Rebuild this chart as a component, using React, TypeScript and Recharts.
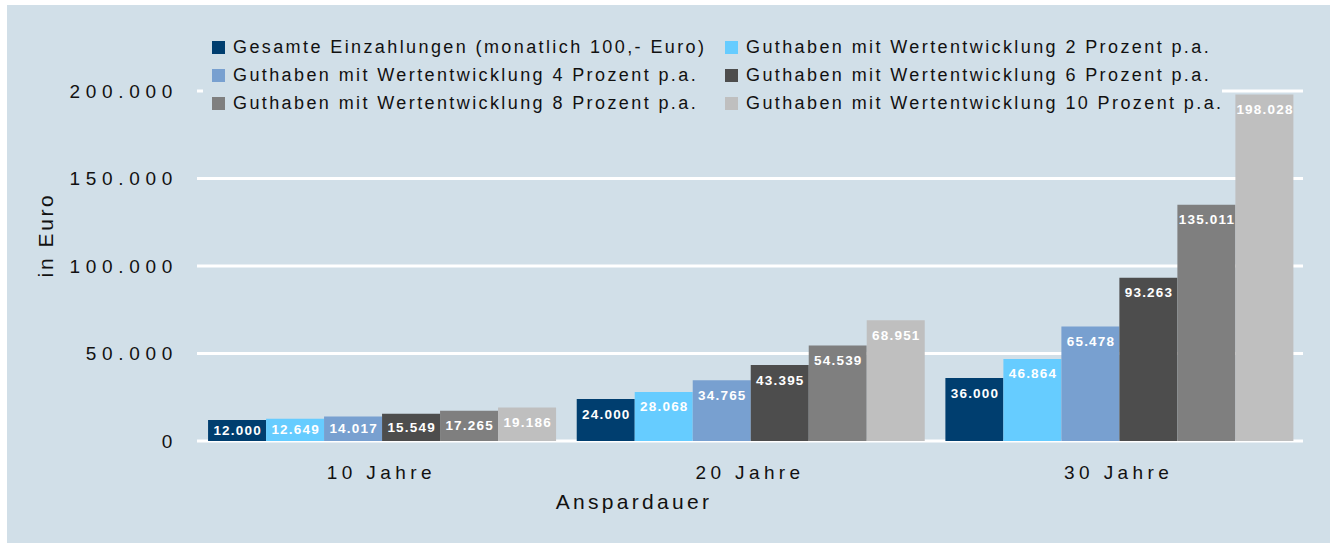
import React from 'react'
import { BarChart, Bar, XAxis, YAxis, CartesianGrid, LabelList, Label } from 'recharts'

const categories = ['10 Jahre', '20 Jahre', '30 Jahre']

const seriesNames = [
  'Gesamte Einzahlungen (monatlich 100,- Euro)',
  'Guthaben mit Wertentwicklung 2 Prozent p.a.',
  'Guthaben mit Wertentwicklung 4 Prozent p.a.',
  'Guthaben mit Wertentwicklung 6 Prozent p.a.',
  'Guthaben mit Wertentwicklung 8 Prozent p.a.',
  'Guthaben mit Wertentwicklung 10 Prozent p.a.',
]
const seriesColors = ['#003e6f', '#66ccff', '#78a0d0', '#4d4d4d', '#7f7f7f', '#bfbfbf']

const einzahlungen = [12000, 24000, 36000]
const rate2 = [12649, 28068, 46864]
const rate4 = [14017, 34765, 65478]
const rate6 = [15549, 43395, 93263]
const rate8 = [17265, 54539, 135011]
const rate10 = [19186, 68951, 198028]

const yTicks = [0, 50000, 100000, 150000, 200000]

const seriesValues = [einzahlungen, rate2, rate4, rate6, rate8, rate10]
const data = categories.map((name, i) => {
  const row: Record<string, any> = { name }
  seriesValues.forEach((vals, s) => { row['s' + s] = vals[i] })
  return row
})

const BG = '#d1dfe8'
const FONT = '"Liberation Sans", Arial, Helvetica, sans-serif'
const TEXT = '#111111'

const fmt = (v: number) => String(Math.round(v)).replace(/\B(?=(\d{3})+(?!\d))/g, '.')

// Wert im Balken: oben innen, bei kleinen Balken mittig
const barLabel = (props: any) => {
  const { x, y, width, height, value } = props
  const cy = Math.min(y + 15, y + height / 2)
  return (
    <text x={x + width / 2 + 0.6} y={cy} textAnchor="middle" dominantBaseline="central"
      fill="#ffffff" fontSize={13.5} fontWeight="bold" letterSpacing={1.2} fontFamily={FONT}>
      {fmt(value)}
    </text>
  )
}

export default function App() {
  return (
    <div style={{ position: 'absolute', left: 0, top: 0, width: 1330, height: 543, background: '#ffffff', overflow: 'hidden' }}>
      <div style={{ position: 'absolute', left: 7, top: 5, width: 1323, height: 538, background: BG }} />
      <div style={{ position: 'absolute', left: 0, top: 0 }}>
        <BarChart width={1330} height={543} data={data}
          margin={{ top: 91, right: 27, bottom: 0, left: 97 }}
          barCategoryGap="3%" barGap={0}>
          <CartesianGrid horizontal vertical={false} stroke="#ffffff" strokeWidth={3} />
          <XAxis dataKey="name" axisLine={false} tickLine={false} height={102} tickMargin={19}
            tick={{ fill: TEXT, fontSize: 19, letterSpacing: 4.4, fontFamily: FONT }}>
            <Label content={(p: any) => {
              const vb = p.viewBox
              return (
                <text x={vb.x + vb.width / 2 - 116} y={vb.y + 68} textAnchor="middle"
                  fill={TEXT} fontSize={21} letterSpacing={3.3} fontFamily={FONT}>Anspardauer</text>
              )
            }} />
          </XAxis>
          <YAxis width={100} domain={[0, 200000]} ticks={yTicks} axisLine={false} tickLine={false}
            tickMargin={13} tickFormatter={fmt} interval={0}
            tick={{ fill: TEXT, fontSize: 19, letterSpacing: 5.7, fontFamily: FONT }}>
            <Label content={(p: any) => {
              const vb = p.viewBox
              const cx = vb.x - 52
              const cy = vb.y + vb.height / 2 - 31
              return (
                <text x={cx} y={cy} transform={`rotate(-90 ${cx} ${cy})`} textAnchor="middle"
                  dominantBaseline="central" fill={TEXT} fontSize={21} letterSpacing={2.6}
                  fontFamily={FONT}>in Euro</text>
              )
            }} />
          </YAxis>
          {seriesNames.map((n, s) => (
            <Bar key={n} dataKey={'s' + s} name={n} fill={seriesColors[s]} isAnimationActive={false}>
              <LabelList dataKey={'s' + s} content={barLabel} />
            </Bar>
          ))}
        </BarChart>
      </div>
      {/* Legende mit Hintergrund, verdeckt die oberste Gitterlinie */}
      <div style={{ position: 'absolute', left: 203, top: 33, width: 1019, height: 84, background: BG,
        fontFamily: FONT, fontSize: 18, letterSpacing: 2.4, color: TEXT }}>
        {[0, 1, 2].map(r => (
          <div key={r} style={{ position: 'relative', height: 28 }}>
            {[0, 1].map(c => {
              const s = r * 2 + c
              return (
                <div key={c} style={{ position: 'absolute', left: c === 0 ? 9 : 522, top: 0, height: 28,
                  display: 'flex', alignItems: 'center', whiteSpace: 'nowrap' }}>
                  <span style={{ width: 13, height: 13, background: seriesColors[s], marginRight: 8, flexShrink: 0 }} />
                  <span>{seriesNames[s]}</span>
                </div>
              )
            })}
          </div>
        ))}
      </div>
    </div>
  )
}
